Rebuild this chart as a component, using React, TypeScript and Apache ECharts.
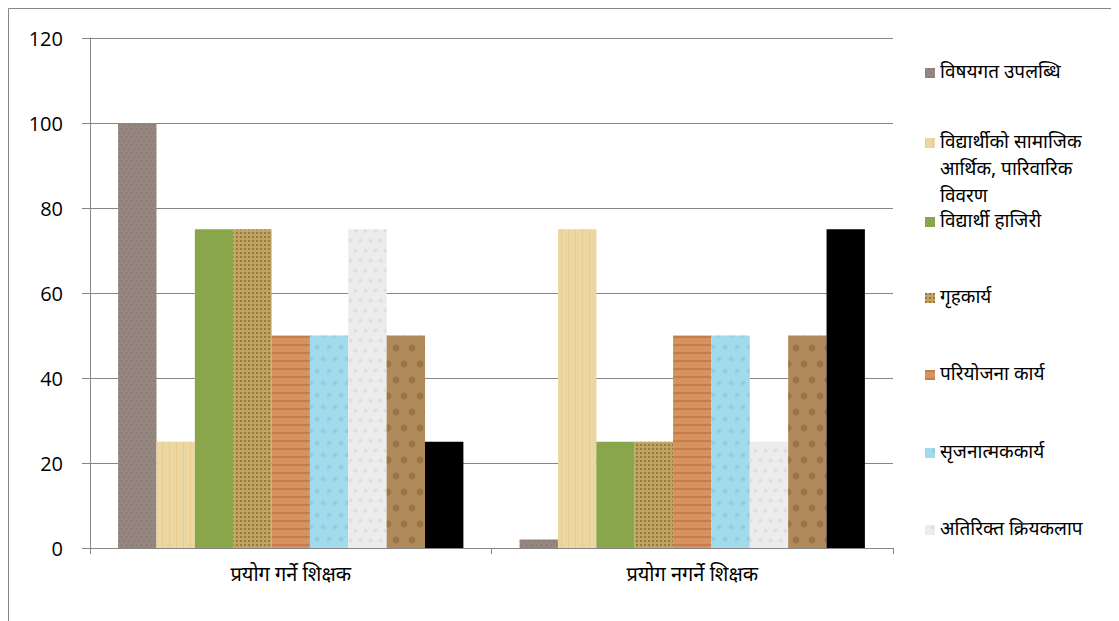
import React, { useEffect, useRef } from "react";
import * as echarts from "echarts";

const categories = ["प्रयोग गर्ने शिक्षक", "प्रयोग नगर्ने शिक्षक"];
const seriesNames = [
  "विषयगत उपलब्धि",
  "विद्यार्थीको सामाजिक\nआर्थिक, पारिवारिक\nविवरण",
  "विद्यार्थी हाजिरी",
  "गृहकार्य",
  "परियोजना कार्य",
  "सृजनात्मककार्य",
  "अतिरिक्त क्रियकलाप",
  "अन्य मूल्याङ्कन",
  "परीक्षा",
];
const seriesValues = [
  [100, 2],
  [25, 75],
  [75, 25],
  [75, 25],
  [50, 50],
  [50, 50],
  [75, 25],
  [50, 50],
  [25, 75],
];
const seriesColors = [
  "#958780",
  "#ecd7a0",
  "#8aa64b",
  "#c2a462",
  "#d69360",
  "#a2dcec",
  "#ececec",
  "#b18a5c",
  "#000000",
];
const seriesDecals: any[] = [
  { symbol: "circle", symbolSize: 0.6, dashArrayX: [[2, 3], [0, 2, 3, 0]], dashArrayY: [2, 2], color: "rgba(80,65,60,0.45)" },
  { symbol: "rect", symbolSize: 1, dashArrayX: [[1, 6]], dashArrayY: [1, 0], color: "rgba(220,180,110,0.35)" },
  null,
  { symbol: "rect", symbolSize: 1, dashArrayX: [[2, 2]], dashArrayY: [2, 2], color: "rgba(95,70,25,0.45)" },
  { symbol: "rect", symbolSize: 1, dashArrayX: [1, 0], dashArrayY: [2, 6], color: "rgba(160,85,40,0.35)" },
  { symbol: "circle", symbolSize: 0.8, dashArrayX: [[6, 6], [0, 6, 6, 0]], dashArrayY: [6, 6], color: "rgba(120,190,215,0.45)" },
  { symbol: "circle", symbolSize: 0.8, dashArrayX: [[5, 5], [0, 5, 5, 0]], dashArrayY: [5, 5], color: "rgba(215,215,220,0.6)" },
  { symbol: "circle", symbolSize: 0.9, dashArrayX: [[8, 8], [0, 8, 8, 0]], dashArrayY: [8, 8], color: "rgba(120,85,45,0.4)" },
  null,
];
const yTicks = { min: 0, max: 120, interval: 20 };
const legendCenters = [60, 130, 209, 285, 362, 440, 517];

const FONT = '"Noto Sans Devanagari", "Lohit Devanagari", "FreeSans", "Noto Sans", sans-serif';

export default function App() {
  const ref = useRef<HTMLDivElement>(null);
  useEffect(() => {
    if (!ref.current) return;
    const chart = echarts.init(ref.current, undefined, { renderer: "svg" });
    const lineH = 27;
    const legends = legendCenters.map((cy, i) => {
      const multi = seriesNames[i].includes("\n");
      const h = multi ? 5 * lineH : lineH;
      return {
        left: 912,
        top: cy - h / 2,
        orient: "vertical" as const,
        itemWidth: 10,
        itemHeight: 10,
        icon: "rect",
        data: [seriesNames[i]],
        formatter: (name: string) => (name.includes("\n") ? "\n\n" + name : name),
        textStyle: { fontSize: 19, color: "#000", fontFamily: FONT, lineHeight: lineH },
        selectedMode: false,
      };
    });
    chart.setOption({
      animation: false,
      backgroundColor: "#fff",
      grid: { left: 82, right: 226, top: 30, bottom: 73, containLabel: false },
      legend: legends,
      xAxis: {
        type: "category",
        data: categories,
        axisLine: { lineStyle: { color: "#868686", width: 1 } },
        axisTick: { show: true, length: 6, lineStyle: { color: "#868686" } },
        axisLabel: { fontSize: 20, color: "#000", fontFamily: FONT, margin: 18 },
      },
      yAxis: {
        type: "value",
        min: yTicks.min,
        max: yTicks.max,
        interval: yTicks.interval,
        axisLine: { show: true, lineStyle: { color: "#868686" } },
        axisTick: { show: true, length: 8, lineStyle: { color: "#868686" } },
        splitLine: { lineStyle: { color: "#868686", width: 1 } },
        axisLabel: { fontSize: 20, color: "#000", fontFamily: '"Open Sans", sans-serif', margin: 27 },
      },
      series: seriesNames.map((name, i) => ({
        name,
        type: "bar",
        data: seriesValues[i],
        barGap: "0%",
        barCategoryGap: "14%",
        itemStyle: seriesDecals[i]
          ? { color: seriesColors[i], decal: seriesDecals[i] }
          : { color: seriesColors[i] },
      })),
      graphic: [
        { type: "line", shape: { x1: 0.5, y1: 0.5, x2: 1111, y2: 0.5 }, style: { stroke: "#868686", lineWidth: 1 } },
        { type: "line", shape: { x1: 0.5, y1: 0.5, x2: 0.5, y2: 613 }, style: { stroke: "#868686", lineWidth: 1 } },
      ],
    });
    return () => chart.dispose();
  }, []);
  return <div ref={ref} style={{ width: 1111, height: 613 }} />;
}
